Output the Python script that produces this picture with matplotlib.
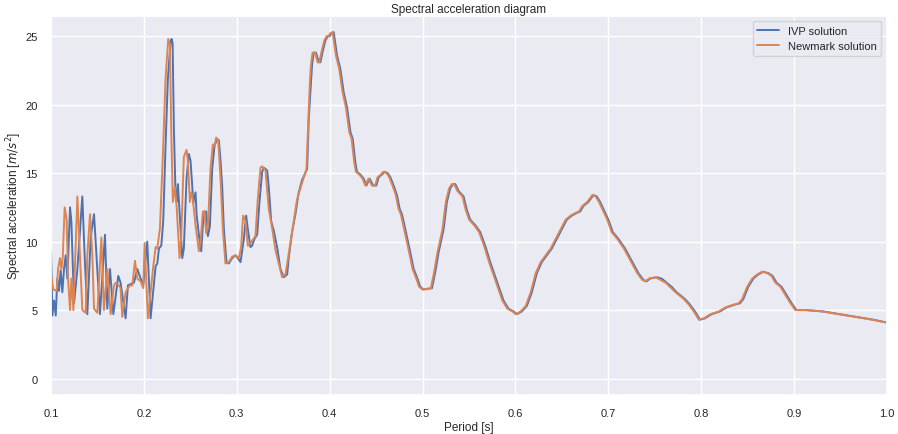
"""
Spectral acceleration diagram: IVP vs Newmark solution
"""

import matplotlib
matplotlib.use("Agg")
import matplotlib.pyplot as plt
import seaborn as sns

# IVP solution (period [s], Sa [m/s^2])
ivp_period = [
    0.1000, 0.1015, 0.1033, 0.1051, 0.1068, 0.1086, 0.1104, 0.1122, 0.1140, 0.1158,
    0.1176, 0.1205, 0.1219, 0.1248, 0.1284, 0.1337, 0.1362, 0.1391, 0.1427, 0.1463,
    0.1527, 0.1581, 0.1606, 0.1635, 0.1671, 0.1724, 0.1749, 0.1803, 0.1828, 0.1857,
    0.1893, 0.1929, 0.1965, 0.1993, 0.2036, 0.2072, 0.2126, 0.2144, 0.2162, 0.2187,
    0.2208, 0.2233, 0.2258, 0.2287, 0.2298, 0.2309, 0.2323, 0.2341, 0.2352, 0.2366,
    0.2377, 0.2395, 0.2413, 0.2430, 0.2459, 0.2484, 0.2502, 0.2520, 0.2531, 0.2556,
    0.2567, 0.2592, 0.2617, 0.2635, 0.2653, 0.2671, 0.2689, 0.2710, 0.2735, 0.2760,
    0.2789, 0.2807, 0.2825, 0.2843, 0.2861, 0.2889, 0.2914, 0.2950, 0.2986, 0.3011,
    0.3040, 0.3076, 0.3101, 0.3119, 0.3147, 0.3165, 0.3190, 0.3219, 0.3244, 0.3273,
    0.3291, 0.3327, 0.3344, 0.3370, 0.3398, 0.3434, 0.3470, 0.3506, 0.3542, 0.3559,
    0.3595, 0.3631, 0.3667, 0.3703, 0.3757, 0.3775, 0.3810, 0.3828, 0.3853, 0.3882,
    0.3900, 0.3925, 0.3954, 0.3979, 0.4000, 0.4015, 0.4043, 0.4079, 0.4115, 0.4151,
    0.4187, 0.4223, 0.4248, 0.4276, 0.4294, 0.4330, 0.4366, 0.4395, 0.4430, 0.4466,
    0.4502, 0.4527, 0.4563, 0.4588, 0.4624, 0.4653, 0.4688, 0.4724, 0.4753, 0.4778,
    0.4814, 0.4868, 0.4904, 0.4939, 0.4975, 0.5011, 0.5101, 0.5137, 0.5172, 0.5226,
    0.5262, 0.5298, 0.5327, 0.5352, 0.5387, 0.5441, 0.5477, 0.5513, 0.5567, 0.5620,
    0.5674, 0.5728, 0.5800, 0.5871, 0.5925, 0.5979, 0.6015, 0.6068, 0.6122, 0.6176,
    0.6230, 0.6283, 0.6337, 0.6391, 0.6445, 0.6499, 0.6552, 0.6606, 0.6660, 0.6696,
    0.6731, 0.6785, 0.6839, 0.6875, 0.6911, 0.6965, 0.7000, 0.7047, 0.7108, 0.7179,
    0.7251, 0.7323, 0.7377, 0.7412, 0.7448, 0.7520, 0.7574, 0.7628, 0.7681, 0.7735,
    0.7771, 0.7825, 0.7878, 0.7932, 0.7986, 0.8040, 0.8111, 0.8201, 0.8273, 0.8362,
    0.8416, 0.8452, 0.8506, 0.8560, 0.8613, 0.8667, 0.8721, 0.8767, 0.8810, 0.8864,
    0.8918, 0.8972, 0.9025, 0.9133, 0.9312, 0.9491, 0.9671, 0.9850, 0.9993, 1.0050,
]
ivp_sa = [
    9.3, 4.6, 5.7, 4.6, 7.3, 6.4, 7.9, 6.3, 8.0, 9.0,
    7.3, 12.5, 11.5, 5.5, 8.0, 13.3, 9.0, 4.7, 10.3, 12.0,
    4.7, 10.5, 5.1, 8.0, 4.7, 7.5, 7.0, 4.4, 6.8, 6.9,
    7.0, 8.0, 7.3, 6.8, 10.0, 4.4, 8.2, 8.4, 9.5, 9.7,
    11.5, 17.0, 21.9, 24.6, 24.8, 24.5, 18.2, 13.4, 12.9, 14.2,
    12.9, 10.9, 8.8, 9.5, 14.6, 16.4, 15.9, 14.1, 12.8, 13.6,
    12.0, 10.5, 9.3, 11.2, 12.2, 12.2, 10.4, 11.1, 15.3, 17.0,
    17.5, 17.4, 15.9, 14.0, 10.9, 8.5, 8.4, 8.8, 9.0, 8.8,
    8.5, 10.2, 11.9, 10.9, 9.6, 9.7, 10.2, 10.5, 12.9, 15.1,
    15.4, 15.2, 14.0, 11.5, 10.8, 9.6, 8.0, 7.4, 7.6, 8.8,
    10.7, 12.0, 13.6, 14.5, 15.3, 19.0, 22.9, 23.8, 23.8, 23.1,
    23.1, 23.9, 24.7, 25.0, 25.0, 25.2, 25.3, 23.6, 22.6, 20.9,
    19.8, 18.0, 17.5, 15.8, 15.1, 14.9, 14.6, 14.1, 14.6, 14.1,
    14.1, 14.7, 14.9, 15.1, 15.0, 14.7, 14.1, 13.4, 12.4, 12.0,
    10.9, 9.2, 8.0, 7.4, 6.7, 6.5, 6.6, 7.8, 9.2, 10.9,
    12.9, 13.9, 14.2, 14.2, 13.7, 13.3, 12.3, 11.6, 11.2, 10.7,
    9.7, 8.5, 7.1, 5.7, 5.1, 4.9, 4.7, 4.9, 5.3, 6.3,
    7.7, 8.5, 9.0, 9.5, 10.2, 10.9, 11.6, 11.9, 12.1, 12.2,
    12.6, 12.9, 13.4, 13.3, 12.9, 12.1, 11.6, 10.7, 10.2, 9.5,
    8.6, 7.7, 7.2, 7.1, 7.3, 7.4, 7.3, 7.0, 6.7, 6.3,
    6.1, 5.8, 5.4, 4.9, 4.3, 4.4, 4.7, 4.9, 5.2, 5.4,
    5.5, 5.8, 6.7, 7.3, 7.6, 7.8, 7.7, 7.5, 7.0, 6.7,
    6.1, 5.5, 5.0, 5.0, 4.9, 4.7, 4.5, 4.3, 4.1, 4.05,
]

# Newmark solution (period [s], Sa [m/s^2])
nm_period = [
    0.1000, 0.1008, 0.1025, 0.1061, 0.1076, 0.1097, 0.1112, 0.1126, 0.1147, 0.1169,
    0.1183, 0.1205, 0.1219, 0.1241, 0.1284, 0.1337, 0.1373, 0.1391, 0.1420, 0.1445,
    0.1463, 0.1499, 0.1542, 0.1570, 0.1606, 0.1642, 0.1678, 0.1696, 0.1732, 0.1749,
    0.1767, 0.1803, 0.1828, 0.1850, 0.1875, 0.1904, 0.1929, 0.1965, 0.1993, 0.2008,
    0.2043, 0.2101, 0.2126, 0.2144, 0.2173, 0.2208, 0.2233, 0.2262, 0.2280, 0.2294,
    0.2312, 0.2334, 0.2352, 0.2384, 0.2402, 0.2430, 0.2459, 0.2473, 0.2495, 0.2509,
    0.2527, 0.2556, 0.2592, 0.2610, 0.2635, 0.2653, 0.2671, 0.2689, 0.2717, 0.2742,
    0.2760, 0.2778, 0.2800, 0.2825, 0.2850, 0.2878, 0.2914, 0.2950, 0.2986, 0.3022,
    0.3047, 0.3068, 0.3094, 0.3119, 0.3147, 0.3201, 0.3226, 0.3255, 0.3273, 0.3309,
    0.3344, 0.3380, 0.3416, 0.3488, 0.3524, 0.3577, 0.3649, 0.3703, 0.3750, 0.3785,
    0.3798, 0.3816, 0.3843, 0.3870, 0.3888, 0.3913, 0.3942, 0.3967, 0.3988, 0.4003,
    0.4031, 0.4067, 0.4103, 0.4139, 0.4175, 0.4211, 0.4236, 0.4264, 0.4282, 0.4318,
    0.4354, 0.4383, 0.4418, 0.4454, 0.4490, 0.4515, 0.4551, 0.4576, 0.4612, 0.4641,
    0.4676, 0.4712, 0.4741, 0.4766, 0.4802, 0.4856, 0.4892, 0.4927, 0.4963, 0.4999,
    0.5089, 0.5125, 0.5160, 0.5214, 0.5250, 0.5286, 0.5315, 0.5340, 0.5375, 0.5429,
    0.5465, 0.5501, 0.5555, 0.5608, 0.5662, 0.5716, 0.5788, 0.5859, 0.5913, 0.5967,
    0.6003, 0.6056, 0.6110, 0.6164, 0.6218, 0.6271, 0.6325, 0.6379, 0.6433, 0.6487,
    0.6540, 0.6594, 0.6648, 0.6684, 0.6719, 0.6773, 0.6827, 0.6863, 0.6899, 0.6953,
    0.6988, 0.7035, 0.7096, 0.7167, 0.7239, 0.7311, 0.7365, 0.7400, 0.7436, 0.7508,
    0.7616, 0.7723, 0.7813, 0.7866, 0.7920, 0.7974, 0.8028, 0.8099, 0.8189, 0.8261,
    0.8350, 0.8404, 0.8440, 0.8494, 0.8548, 0.8601, 0.8655, 0.8709, 0.8755, 0.8798,
    0.8852, 0.8906, 0.8960, 0.9013, 0.9121, 0.9300, 0.9479, 0.9659, 0.9838, 0.9981,
    1.0050,
]
nm_sa = [
    7.0, 7.3, 6.5, 6.4, 8.0, 8.8, 8.0, 8.8, 12.5, 11.6,
    7.3, 5.0, 7.3, 5.0, 13.3, 5.0, 4.8, 9.0, 12.0, 9.0,
    5.1, 4.8, 10.3, 5.0, 8.0, 4.7, 6.8, 7.0, 6.8, 6.6,
    4.5, 6.3, 6.6, 6.8, 6.8, 8.6, 7.3, 7.1, 6.6, 9.9,
    4.4, 8.2, 9.6, 9.5, 11.0, 17.0, 21.9, 24.8, 24.4, 18.2,
    12.9, 14.0, 12.6, 8.8, 10.4, 16.2, 16.7, 15.9, 12.9, 13.6,
    13.1, 11.2, 9.3, 10.0, 12.2, 12.2, 10.6, 11.1, 15.3, 17.1,
    17.0, 17.6, 17.4, 14.6, 10.9, 8.4, 8.5, 8.9, 9.0, 8.8,
    9.6, 11.9, 11.5, 9.7, 9.9, 10.4, 13.1, 15.4, 15.5, 15.2,
    12.4, 11.0, 9.4, 7.4, 7.6, 9.9, 13.1, 14.3, 15.3, 21.4,
    22.9, 23.8, 23.8, 23.1, 23.1, 23.9, 24.7, 25.0, 25.0, 25.2,
    25.3, 23.6, 22.6, 20.9, 19.8, 18.0, 17.5, 15.8, 15.1, 14.9,
    14.6, 14.1, 14.6, 14.1, 14.1, 14.7, 14.9, 15.1, 15.0, 14.7,
    14.1, 13.4, 12.4, 12.0, 10.9, 9.2, 8.0, 7.4, 6.7, 6.5,
    6.6, 7.8, 9.2, 10.9, 12.9, 13.9, 14.2, 14.2, 13.7, 13.3,
    12.3, 11.6, 11.2, 10.7, 9.7, 8.5, 7.1, 5.7, 5.1, 4.9,
    4.7, 4.9, 5.3, 6.3, 7.7, 8.5, 9.0, 9.5, 10.2, 10.9,
    11.6, 11.9, 12.1, 12.2, 12.6, 12.9, 13.4, 13.3, 12.9, 12.1,
    11.6, 10.7, 10.2, 9.5, 8.6, 7.7, 7.2, 7.1, 7.3, 7.4,
    7.0, 6.3, 5.8, 5.4, 4.9, 4.3, 4.4, 4.7, 4.9, 5.2,
    5.4, 5.5, 5.8, 6.7, 7.3, 7.6, 7.8, 7.7, 7.5, 7.0,
    6.7, 6.1, 5.5, 5.0, 5.0, 4.9, 4.7, 4.5, 4.3, 4.1,
    4.05,
]

sns.set_theme(style="darkgrid")
plt.rcParams['font.family'] = ['Liberation Sans', 'DejaVu Sans']

fig, ax = plt.subplots(figsize=(8.98, 4.35), dpi=100)
fig.subplots_adjust(left=0.0568, right=0.9878, top=0.9616, bottom=0.0897)

ax.plot(ivp_period, ivp_sa, label='IVP solution', linewidth=1.4)
ax.plot(nm_period, nm_sa, label='Newmark solution', linewidth=1.4)

ax.set_xlim(0.1, 1.0)
ax.set_ylim(-1.2, 26.5)
ax.set_title('Spectral acceleration diagram', fontsize=8.5, pad=3)
ax.set_xlabel('Period [s]', fontsize=8.5, labelpad=2)
ax.set_ylabel('Spectral acceleration [$m/s^2$]', fontsize=8.5, labelpad=1)
ax.tick_params(labelsize=8)
ax.legend(loc='upper right', fontsize=8)

fig.savefig('out.png', dpi=100)
